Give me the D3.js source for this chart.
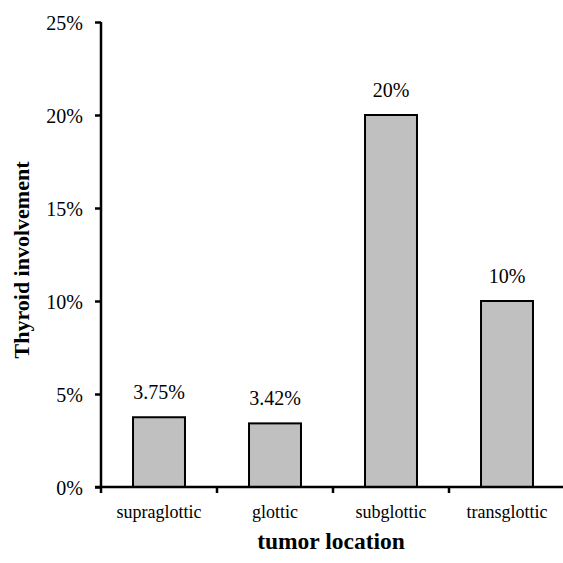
<!DOCTYPE html>
<html>
<head>
<meta charset="utf-8">
<script src="https://cdn.jsdelivr.net/npm/d3@7"></script>
<style>
  body { margin: 0; background: #fff; }
</style>
</head>
<body>
<div id="chart"></div>
<script>
// data
const categories = ["supraglottic", "glottic", "subglottic", "transglottic"]
const values = [3.75, 3.42, 20, 10]
const value_labels = ["3.75%", "3.42%", "20%", "10%"]
const y_ticks = [0, 5, 10, 15, 20, 25]

// layout
const W = 563, H = 563
const m_left = 101, m_right = 565, m_top = 22, m_bottom = 487
const serif = "'Liberation Serif', 'DejaVu Serif', 'Times New Roman', serif"

const svg = d3.select("#chart").append("svg")
    .attr("width", W)
    .attr("height", H)
    .attr("font-family", serif)

const x = d3.scaleBand()
    .domain(categories)
    .range([m_left, m_right])
    .paddingInner(0.552)
    .paddingOuter(0.276)

const y = d3.scaleLinear()
    .domain([0, 25])
    .range([m_bottom, m_top])

// bars
svg.selectAll("rect.bar")
    .data(values)
    .enter().append("rect")
    .attr("class", "bar")
    .attr("x", (d, i) => x(categories[i]))
    .attr("y", d => y(d))
    .attr("width", x.bandwidth())
    .attr("height", d => y(0) - y(d))
    .attr("fill", "#c0c0c0")
    .attr("stroke", "#000")
    .attr("stroke-width", 2)

// value labels
svg.selectAll("text.val")
    .data(values)
    .enter().append("text")
    .attr("class", "val")
    .attr("x", (d, i) => x(categories[i]) + x.bandwidth() / 2)
    .attr("y", d => y(d) - 18)
    .attr("text-anchor", "middle")
    .attr("font-family", serif)
    .attr("font-size", 20)
    .text((d, i) => value_labels[i])

// y axis
const yAxis = svg.append("g")
    .attr("transform", "translate(" + m_left + ",0)")
    .call(d3.axisLeft(y).tickValues(y_ticks).tickSize(6).tickPadding(12).tickFormat(d => d + "%"))
yAxis.attr("font-family", serif).attr("font-size", 20)
yAxis.select(".domain").attr("stroke-width", 2.5).attr("d", "M0," + m_top + "V" + m_bottom)
yAxis.selectAll(".tick line").attr("stroke-width", 2.5)
yAxis.selectAll(".tick text").attr("fill", "#000").attr("dy", "0.35em")

// x axis (ticks on category boundaries)
const step = x.step()
const bounds = [m_left, m_left + step, m_left + 2 * step, m_left + 3 * step]
const xg = svg.append("g")
xg.append("line")
    .attr("x1", m_left - 6).attr("x2", W)
    .attr("y1", m_bottom).attr("y2", m_bottom)
    .attr("stroke", "#000").attr("stroke-width", 2.5)
xg.selectAll("line.tk")
    .data(bounds)
    .enter().append("line")
    .attr("class", "tk")
    .attr("x1", d => d).attr("x2", d => d)
    .attr("y1", m_bottom).attr("y2", m_bottom + 6)
    .attr("stroke", "#000").attr("stroke-width", 2.5)
xg.selectAll("text.cat")
    .data(categories)
    .enter().append("text")
    .attr("class", "cat")
    .attr("x", d => x(d) + x.bandwidth() / 2)
    .attr("y", 518)
    .attr("text-anchor", "middle")
    .attr("font-family", serif)
    .attr("font-size", 18)
    .text(d => d)

// axis titles
svg.append("text")
    .attr("x", 331)
    .attr("y", 549)
    .attr("text-anchor", "middle")
    .attr("font-family", serif)
    .attr("font-size", 23.5)
    .attr("font-weight", "bold")
    .text("tumor location")

svg.append("text")
    .attr("transform", "translate(29,260) rotate(-90)")
    .attr("text-anchor", "middle")
    .attr("font-family", serif)
    .attr("font-size", 22)
    .attr("font-weight", "bold")
    .text("Thyroid involvement")
</script>
</body>
</html>
